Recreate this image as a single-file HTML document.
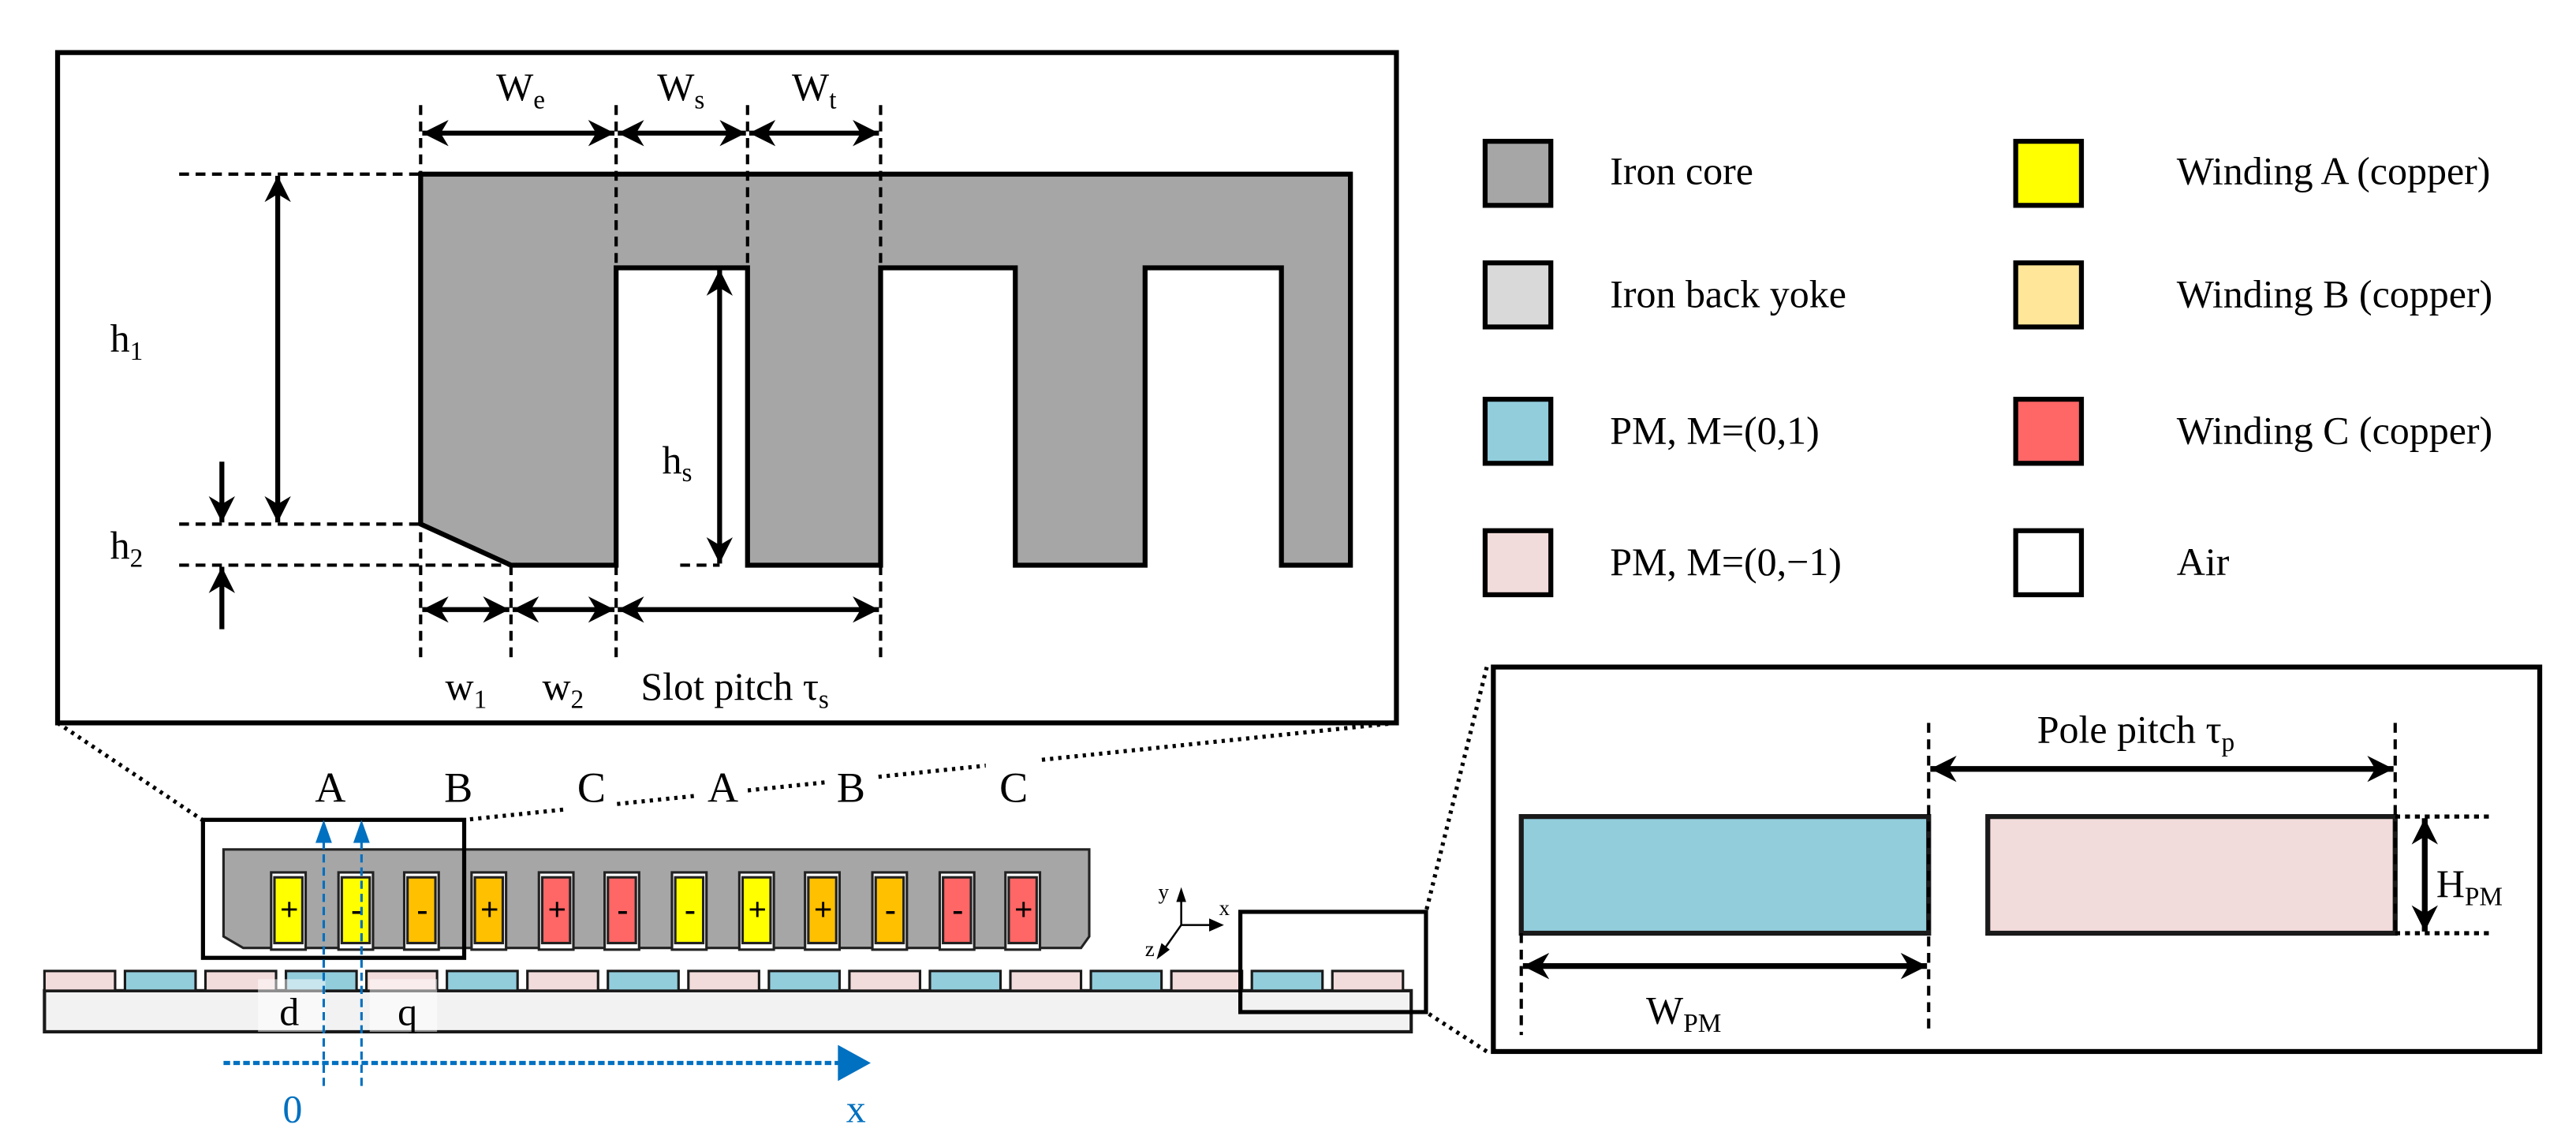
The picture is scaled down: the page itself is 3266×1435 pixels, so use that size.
<!DOCTYPE html>
<html><head><meta charset="utf-8"><style>
html,body{margin:0;padding:0;background:#fff;}
svg{display:block;}
text{font-family:"Liberation Serif","DejaVu Serif",serif;fill:#000;}
</style></head><body>
<svg width="3266" height="1435" viewBox="0 0 1568 689" xmlns="http://www.w3.org/2000/svg" font-family="Liberation Serif, DejaVu Serif, serif">
<defs>
<marker id="ahb" viewBox="0 0 10 10" refX="10" refY="5" markerWidth="16" markerHeight="16" orient="auto-start-reverse" markerUnits="userSpaceOnUse"><path d="M0,0 L10,5 L0,10 L3,5 Z" fill="#000"/></marker>
</defs>
<rect width="1568" height="689" fill="#fff"/>

<!-- top panel -->
<rect x="35" y="32" width="815" height="408" fill="none" stroke="#000" stroke-width="3"/>
<polygon points="256,106 822,106 822,344 780,344 780,163 697,163 697,344 618,344 618,163 536,163 536,344 455,344 455,163 375,163 375,344 311,344 256,319" fill="#a6a6a6" stroke="#000" stroke-width="3"/>
<g stroke="#000" stroke-width="2" stroke-dasharray="6 4" fill="none">
<line x1="256" y1="64" x2="256" y2="402"/>
<line x1="375" y1="64" x2="375" y2="402"/>
<line x1="455" y1="64" x2="455" y2="344"/>
<line x1="536" y1="64" x2="536" y2="402"/>
<line x1="311" y1="344" x2="311" y2="402"/>
<line x1="109" y1="106" x2="256" y2="106"/>
<line x1="109" y1="319" x2="256" y2="319"/>
<line x1="109" y1="344" x2="311" y2="344"/>
<line x1="414" y1="344" x2="438" y2="344"/>
</g>
<g stroke="#000" stroke-width="3" fill="none">
<line x1="257" y1="81" x2="374" y2="81" marker-start="url(#ahb)" marker-end="url(#ahb)"/>
<line x1="376" y1="81" x2="454" y2="81" marker-start="url(#ahb)" marker-end="url(#ahb)"/>
<line x1="456" y1="81" x2="535" y2="81" marker-start="url(#ahb)" marker-end="url(#ahb)"/>
<line x1="169" y1="107" x2="169" y2="318" marker-start="url(#ahb)" marker-end="url(#ahb)"/>
<line x1="438" y1="164" x2="438" y2="343" marker-start="url(#ahb)" marker-end="url(#ahb)"/>
<line x1="135" y1="281" x2="135" y2="318" marker-end="url(#ahb)"/>
<line x1="135" y1="383" x2="135" y2="345" marker-end="url(#ahb)"/>
<line x1="257" y1="371" x2="310" y2="371" marker-start="url(#ahb)" marker-end="url(#ahb)"/>
<line x1="312" y1="371" x2="374" y2="371" marker-start="url(#ahb)" marker-end="url(#ahb)"/>
<line x1="376" y1="371" x2="535" y2="371" marker-start="url(#ahb)" marker-end="url(#ahb)"/>
</g>
<g font-size="24">
<text x="302" y="61">W<tspan font-size="16" dy="5">e</tspan></text>
<text x="400" y="61">W<tspan font-size="16" dy="5">s</tspan></text>
<text x="482" y="61">W<tspan font-size="16" dy="5">t</tspan></text>
<text x="67" y="214">h<tspan font-size="16" dy="5">1</tspan></text>
<text x="67" y="340">h<tspan font-size="16" dy="5">2</tspan></text>
<text x="403" y="288">h<tspan font-size="16" dy="5">s</tspan></text>
<text x="271" y="426">w<tspan font-size="16" dy="5">1</tspan></text>
<text x="330" y="426">w<tspan font-size="16" dy="5">2</tspan></text>
<text x="390" y="426">Slot pitch τ<tspan font-size="16" dy="5">s</tspan></text>
</g>

<!-- legend -->
<g stroke="#000" stroke-width="3">
<rect x="904" y="86" width="40" height="39" fill="#a6a6a6"/>
<rect x="904" y="160" width="40" height="39" fill="#d9d9d9"/>
<rect x="904" y="243" width="40" height="39" fill="#92cddc"/>
<rect x="904" y="323" width="40" height="39" fill="#f2dcdb"/>
<rect x="1227" y="86" width="40" height="39" fill="#ffff00"/>
<rect x="1227" y="160" width="40" height="39" fill="#ffe699"/>
<rect x="1227" y="243" width="40" height="39" fill="#ff6666"/>
<rect x="1227" y="323" width="40" height="39" fill="#fff"/>
</g>
<g font-size="24">
<text x="980" y="112">Iron core</text>
<text x="980" y="187">Iron back yoke</text>
<text x="980" y="270">PM, M=(0,1)</text>
<text x="980" y="350">PM, M=(0,−1)</text>
<text x="1325" y="112">Winding A (copper)</text>
<text x="1325" y="187">Winding B (copper)</text>
<text x="1325" y="270">Winding C (copper)</text>
<text x="1325" y="350">Air</text>
</g>

<!-- dotted connectors -->
<g stroke="#000" stroke-width="2.5" stroke-dasharray="2 3" fill="none">
<line x1="35" y1="440" x2="123" y2="499"/>
<line x1="850" y1="440" x2="283" y2="499"/>
<line x1="905" y1="406" x2="868" y2="555"/>
<line x1="905" y1="640" x2="868" y2="616"/>
</g>
<g fill="#fff">
<rect x="186" y="455" width="30" height="40"/>
<rect x="265" y="455" width="30" height="40"/>
<rect x="345" y="455" width="30" height="40"/>
<rect x="425" y="455" width="30" height="40"/>
<rect x="503" y="455" width="30" height="40"/>
<rect x="600" y="455" width="32" height="40"/>
</g>
<g font-size="26" text-anchor="middle">
<text x="201" y="488">A</text><text x="279" y="488">B</text><text x="360" y="488">C</text>
<text x="440" y="488">A</text><text x="518" y="488">B</text><text x="617" y="488">C</text>
</g>

<!-- magnets and yoke -->
<rect x="27" y="603" width="832" height="25" fill="#f2f2f2" stroke="#1a1a1a" stroke-width="2"/>
<g stroke="#1a1a1a" stroke-width="1.5">
<rect x="27" y="591" width="43" height="12" fill="#f2dcdb"/>
<rect x="76" y="591" width="43" height="12" fill="#92cddc"/>
<rect x="125" y="591" width="43" height="12" fill="#f2dcdb"/>
<rect x="174" y="591" width="43" height="12" fill="#92cddc"/>
<rect x="223" y="591" width="43" height="12" fill="#f2dcdb"/>
<rect x="272" y="591" width="43" height="12" fill="#92cddc"/>
<rect x="321" y="591" width="43" height="12" fill="#f2dcdb"/>
<rect x="370" y="591" width="43" height="12" fill="#92cddc"/>
<rect x="419" y="591" width="43" height="12" fill="#f2dcdb"/>
<rect x="468" y="591" width="43" height="12" fill="#92cddc"/>
<rect x="517" y="591" width="43" height="12" fill="#f2dcdb"/>
<rect x="566" y="591" width="43" height="12" fill="#92cddc"/>
<rect x="615" y="591" width="43" height="12" fill="#f2dcdb"/>
<rect x="664" y="591" width="43" height="12" fill="#92cddc"/>
<rect x="713" y="591" width="43" height="12" fill="#f2dcdb"/>
<rect x="762" y="591" width="43" height="12" fill="#92cddc"/>
<rect x="811" y="591" width="43" height="12" fill="#f2dcdb"/>
</g>
<rect x="157" y="596" width="41" height="32" fill="#fff" fill-opacity="0.5"/>
<rect x="225" y="596" width="41" height="32" fill="#fff" fill-opacity="0.5"/>
<text x="170" y="624" font-size="24">d</text>
<text x="242" y="624" font-size="24">q</text>

<!-- stator -->
<polygon points="136,517 663,517 663,570 658,577 148,577 136,570" fill="#a6a6a6" stroke="#222" stroke-width="1.5"/>
<g stroke="#222" stroke-width="1.5">
<rect x="165" y="531" width="21" height="47" fill="#fff"/><rect x="167" y="534" width="17" height="40" fill="#ffff00"/>
<rect x="206" y="531" width="21" height="47" fill="#fff"/><rect x="208" y="534" width="17" height="40" fill="#ffff00"/>
<rect x="246" y="531" width="21" height="47" fill="#fff"/><rect x="248" y="534" width="17" height="40" fill="#ffc000"/>
<rect x="287" y="531" width="21" height="47" fill="#fff"/><rect x="289" y="534" width="17" height="40" fill="#ffc000"/>
<rect x="328" y="531" width="21" height="47" fill="#fff"/><rect x="330" y="534" width="17" height="40" fill="#ff6666"/>
<rect x="368" y="531" width="21" height="47" fill="#fff"/><rect x="370" y="534" width="17" height="40" fill="#ff6666"/>
<rect x="409" y="531" width="21" height="47" fill="#fff"/><rect x="411" y="534" width="17" height="40" fill="#ffff00"/>
<rect x="450" y="531" width="21" height="47" fill="#fff"/><rect x="452" y="534" width="17" height="40" fill="#ffff00"/>
<rect x="490" y="531" width="21" height="47" fill="#fff"/><rect x="492" y="534" width="17" height="40" fill="#ffc000"/>
<rect x="531" y="531" width="21" height="47" fill="#fff"/><rect x="533" y="534" width="17" height="40" fill="#ffc000"/>
<rect x="572" y="531" width="21" height="47" fill="#fff"/><rect x="574" y="534" width="17" height="40" fill="#ff6666"/>
<rect x="612" y="531" width="21" height="47" fill="#fff"/><rect x="614" y="534" width="17" height="40" fill="#ff6666"/>
</g>
<g font-size="20" font-weight="bold" text-anchor="middle">
<text x="176" y="560">+</text><text x="217" y="560">-</text><text x="257" y="560">-</text><text x="298" y="560">+</text>
<text x="339" y="560">+</text><text x="379" y="560">-</text><text x="420" y="560">-</text><text x="461" y="560">+</text>
<text x="501" y="560">+</text><text x="542" y="560">-</text><text x="583" y="560">-</text><text x="623" y="560">+</text>
</g>
<rect x="123.5" y="499" width="159" height="84" fill="none" stroke="#000" stroke-width="2.5"/>

<!-- blue axes -->
<g stroke="#0070c0" stroke-width="1.5" stroke-dasharray="5 3" fill="none">
<line x1="197" y1="512" x2="197" y2="663"/>
<line x1="220" y1="512" x2="220" y2="663"/>
</g>
<polygon points="197,499 192,513 202,513" fill="#0070c0"/>
<polygon points="220,499 215,513 225,513" fill="#0070c0"/>
<line x1="136" y1="647" x2="512" y2="647" stroke="#0070c0" stroke-width="2.5" stroke-dasharray="4 2"/>
<polygon points="530,647 510,636 510,658" fill="#0070c0"/>
<text x="172" y="683" font-size="24" style="fill:#0070c0">0</text>
<text x="515" y="683" font-size="24" style="fill:#0070c0">x</text>

<!-- xyz -->
<g stroke="#000" stroke-width="1.2" fill="none">
<line x1="719" y1="563" x2="719" y2="545"/>
<line x1="719" y1="563" x2="738" y2="563"/>
<line x1="719" y1="563" x2="707" y2="580"/>
</g>
<polygon points="719,540 716,549 722,549" fill="#000"/>
<polygon points="745,563 736,559 736,567" fill="#000"/>
<polygon points="704,584 707,574 712,578" fill="#000"/>
<text x="705" y="547" font-size="13">y</text>
<text x="742" y="557" font-size="13">x</text>
<text x="697" y="582" font-size="13">z</text>
<rect x="755" y="555" width="113" height="61" fill="none" stroke="#000" stroke-width="2.5"/>

<!-- right panel -->
<rect x="909" y="406" width="637" height="234" fill="none" stroke="#000" stroke-width="3"/>
<rect x="926" y="497" width="248" height="71" fill="#92cddc" stroke="#1a1a1a" stroke-width="3"/>
<rect x="1210" y="497" width="248" height="71" fill="#f2dcdb" stroke="#1a1a1a" stroke-width="3"/>
<g stroke="#000" stroke-width="2" stroke-dasharray="6 4" fill="none">
<line x1="1174" y1="440" x2="1174" y2="630"/>
<line x1="1458" y1="440" x2="1458" y2="568"/>
<line x1="926" y1="568" x2="926" y2="630"/>
</g>
<g stroke="#000" stroke-width="2.5" stroke-dasharray="3 3" fill="none">
<line x1="1458" y1="497" x2="1518" y2="497"/>
<line x1="1458" y1="568" x2="1518" y2="568"/>
</g>
<g stroke="#000" stroke-width="3.5" fill="none">
<line x1="1175" y1="468" x2="1457" y2="468" marker-start="url(#ahb)" marker-end="url(#ahb)"/>
<line x1="927" y1="588" x2="1173" y2="588" marker-start="url(#ahb)" marker-end="url(#ahb)"/>
<line x1="1476" y1="498" x2="1476" y2="567" marker-start="url(#ahb)" marker-end="url(#ahb)"/>
</g>
<text x="1240" y="452" font-size="24">Pole pitch τ<tspan font-size="16" dy="5">p</tspan></text>
<text x="1002" y="623" font-size="24">W<tspan font-size="16" dy="5">PM</tspan></text>
<text x="1483" y="546" font-size="24">H<tspan font-size="16" dy="5">PM</tspan></text>
</svg>
</body></html>
